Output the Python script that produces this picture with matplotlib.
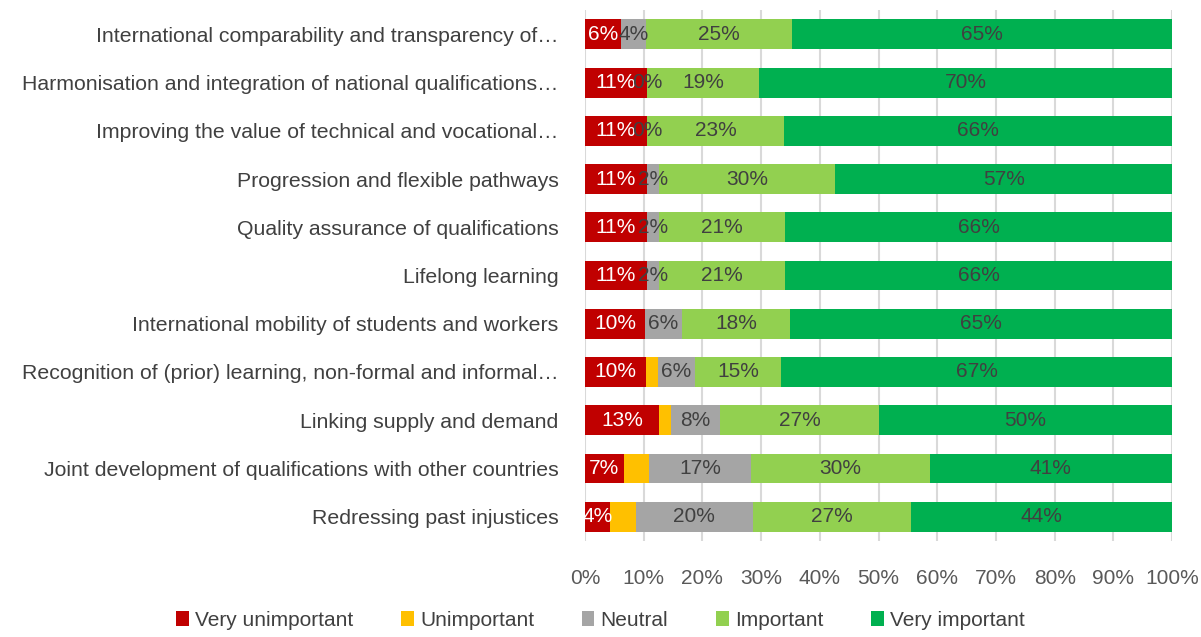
import numpy as np
import matplotlib.pyplot as plt
from matplotlib.ticker import PercentFormatter

plt.rcParams['font.family'] = ['Liberation Sans', 'DejaVu Sans']

categories = [
    "International comparability and transparency of\u2026",
    "Harmonisation and integration of national qualifications\u2026",
    "Improving the value of technical and vocational\u2026",
    "Progression and flexible pathways",
    "Quality assurance of qualifications",
    "Lifelong learning",
    "International mobility of students and workers",
    "Recognition of (prior) learning, non-formal and informal\u2026",
    "Linking supply and demand",
    "Joint development of qualifications with other countries",
    "Redressing past injustices",
]

very_unimportant = [6.1, 10.6, 10.6, 10.6, 10.6, 10.6, 10.3, 10.4, 12.6, 6.6, 4.3]
unimportant      = [0.0, 0.0, 0.0, 0.0, 0.0, 0.0, 0.0, 2.0, 2.1, 4.4, 4.4]
neutral          = [4.3, 0.0, 0.0, 2.1, 2.1, 2.1, 6.2, 6.3, 8.3, 17.3, 19.9]
important        = [24.9, 19.0, 23.3, 29.9, 21.4, 21.4, 18.4, 14.7, 27.1, 30.4, 26.9]
very_important   = [64.7, 70.4, 66.1, 57.4, 65.9, 65.9, 65.1, 66.6, 49.9, 41.3, 44.5]

series_names = ["Very unimportant", "Unimportant", "Neutral", "Important", "Very important"]
series = [very_unimportant, unimportant, neutral, important, very_important]
colors = ["#C00000", "#FFC000", "#A5A5A5", "#92D050", "#00B050"]
text_colors = ["white", None, "#404040", "#404040", "#404040"]

fig = plt.figure(figsize=(12.01, 6.37), dpi=100)
ax = fig.add_axes([0.487, 0.151, 0.489, 0.833])

y = np.arange(len(categories))
left = np.zeros(len(categories))
for name, vals, col, tc in zip(series_names, series, colors, text_colors):
    vals = np.array(vals)
    bars = ax.barh(y, vals, left=left, height=0.62, color=col, label=name, zorder=3)
    if tc is not None:
        for rect, v in zip(bars, vals):
            ax.text(rect.get_x() + rect.get_width() / 2, rect.get_y() + rect.get_height() / 2,
                    "{:.0f}%".format(v), ha='center', va='center', color=tc,
                    fontsize=15, zorder=4)
    left += vals

ax.set_xlim(0, 100)
ax.set_ylim(len(categories) - 0.5, -0.5)
ax.set_yticks(y)
ax.set_yticklabels(categories, fontsize=15.3, color='#404040')
ax.set_xticks(np.arange(0, 101, 10))
ax.xaxis.set_major_formatter(PercentFormatter(decimals=0))
ax.tick_params(axis='x', labelsize=15, labelcolor='#595959', length=0, pad=20)
ax.tick_params(axis='y', length=0, pad=19)
ax.grid(axis='x', color='#D9D9D9', linewidth=1.5, zorder=0)
for s in ax.spines.values():
    s.set_visible(False)

fig.legend(loc='lower center', bbox_to_anchor=(0.5, -0.018), ncol=5, frameon=False,
           fontsize=15, handlelength=0.6, handleheight=0.7, handletextpad=0.3,
           columnspacing=2.3, labelcolor='#404040')

fig.savefig('out.png', dpi=100)
